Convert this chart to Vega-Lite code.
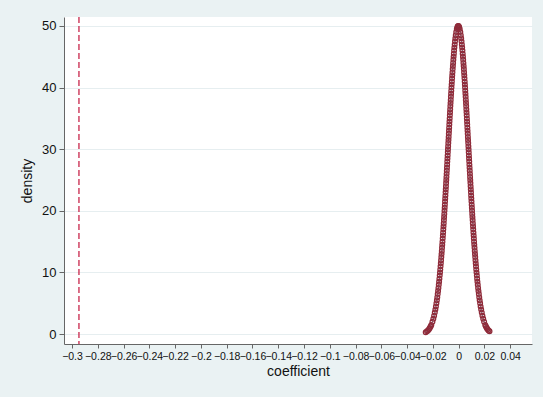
{
  "$schema": "https://vega.github.io/schema/vega-lite/v6.json",
  "autosize": {"type": "none"},
  "width": 468,
  "height": 327,
  "padding": {"left": 64, "top": 17, "right": 11, "bottom": 53},
  "background": "#eaf2f3",
  "config": {
    "view": {"fill": "white", "stroke": null},
    "font": "Liberation Sans",
    "axis": {
      "domainColor": "#666666",
      "tickColor": "#666666",
      "labelColor": "#111111",
      "titleColor": "#111111",
      "titleFontWeight": "normal",
      "labelFont": "Liberation Sans",
      "titleFont": "Liberation Sans"
    }
  },
  "datasets": {
    "kd": [
      {"x": -0.02557, "y": 0.3}, {"x": -0.02455, "y": 0.45}, {"x": -0.0238, "y": 0.6}, {"x": -0.02302, "y": 0.8},
      {"x": -0.0224, "y": 1.0}, {"x": -0.02176, "y": 1.25}, {"x": -0.02122, "y": 1.5}, {"x": -0.02034, "y": 2.0},
      {"x": -0.01964, "y": 2.5}, {"x": -0.01904, "y": 3.0}, {"x": -0.01852, "y": 3.5}, {"x": -0.01806, "y": 4.0},
      {"x": -0.01764, "y": 4.5}, {"x": -0.01725, "y": 5.0}, {"x": -0.0169, "y": 5.5}, {"x": -0.01657, "y": 6.0},
      {"x": -0.01626, "y": 6.5}, {"x": -0.01597, "y": 7.0}, {"x": -0.01569, "y": 7.5}, {"x": -0.01542, "y": 8.0},
      {"x": -0.01517, "y": 8.5}, {"x": -0.01493, "y": 9.0}, {"x": -0.0147, "y": 9.5}, {"x": -0.01447, "y": 10},
      {"x": -0.01426, "y": 10.5}, {"x": -0.01405, "y": 11}, {"x": -0.01384, "y": 11.5}, {"x": -0.01365, "y": 12},
      {"x": -0.01345, "y": 12.5}, {"x": -0.01327, "y": 13}, {"x": -0.01308, "y": 13.5}, {"x": -0.01291, "y": 14},
      {"x": -0.01273, "y": 14.5}, {"x": -0.01256, "y": 15}, {"x": -0.01239, "y": 15.5}, {"x": -0.01223, "y": 16},
      {"x": -0.01206, "y": 16.5}, {"x": -0.0119, "y": 17}, {"x": -0.01175, "y": 17.5}, {"x": -0.01159, "y": 18},
      {"x": -0.01144, "y": 18.5}, {"x": -0.01129, "y": 19}, {"x": -0.01114, "y": 19.5}, {"x": -0.01099, "y": 20},
      {"x": -0.01085, "y": 20.5}, {"x": -0.01071, "y": 21}, {"x": -0.01056, "y": 21.5}, {"x": -0.01042, "y": 22},
      {"x": -0.01028, "y": 22.5}, {"x": -0.01015, "y": 23}, {"x": -0.01001, "y": 23.5}, {"x": -0.00987, "y": 24},
      {"x": -0.00974, "y": 24.5}, {"x": -0.0096, "y": 25}, {"x": -0.00947, "y": 25.5}, {"x": -0.00934, "y": 26},
      {"x": -0.0092, "y": 26.5}, {"x": -0.00907, "y": 27}, {"x": -0.00894, "y": 27.5}, {"x": -0.00881, "y": 28},
      {"x": -0.00868, "y": 28.5}, {"x": -0.00855, "y": 29}, {"x": -0.00842, "y": 29.5}, {"x": -0.00829, "y": 30},
      {"x": -0.00816, "y": 30.5}, {"x": -0.00803, "y": 31}, {"x": -0.00789, "y": 31.5}, {"x": -0.00776, "y": 32},
      {"x": -0.00763, "y": 32.5}, {"x": -0.0075, "y": 33}, {"x": -0.00737, "y": 33.5}, {"x": -0.00724, "y": 34},
      {"x": -0.00711, "y": 34.5}, {"x": -0.00697, "y": 35}, {"x": -0.00684, "y": 35.5}, {"x": -0.0067, "y": 36},
      {"x": -0.00657, "y": 36.5}, {"x": -0.00643, "y": 37}, {"x": -0.00629, "y": 37.5}, {"x": -0.00615, "y": 38},
      {"x": -0.00601, "y": 38.5}, {"x": -0.00587, "y": 39}, {"x": -0.00572, "y": 39.5}, {"x": -0.00558, "y": 40},
      {"x": -0.00543, "y": 40.5}, {"x": -0.00528, "y": 41}, {"x": -0.00512, "y": 41.5}, {"x": -0.00497, "y": 42},
      {"x": -0.0048, "y": 42.5}, {"x": -0.00464, "y": 43}, {"x": -0.00447, "y": 43.5}, {"x": -0.00429, "y": 44},
      {"x": -0.00411, "y": 44.5}, {"x": -0.00393, "y": 45}, {"x": -0.00373, "y": 45.5}, {"x": -0.00353, "y": 46},
      {"x": -0.00331, "y": 46.5}, {"x": -0.00308, "y": 47}, {"x": -0.00283, "y": 47.5}, {"x": -0.00256, "y": 48},
      {"x": -0.00225, "y": 48.5}, {"x": -0.00189, "y": 49}, {"x": -0.00142, "y": 49.5}, {"x": -0.00101, "y": 49.8},
      {"x": -0.00065, "y": 49.95}, {"x": -0.0003, "y": 50},
      {"x": 0.00005, "y": 49.95}, {"x": 0.00041, "y": 49.8}, {"x": 0.00082, "y": 49.5}, {"x": 0.00129, "y": 49},
      {"x": 0.00165, "y": 48.5}, {"x": 0.00196, "y": 48}, {"x": 0.00223, "y": 47.5}, {"x": 0.00248, "y": 47},
      {"x": 0.00271, "y": 46.5}, {"x": 0.00293, "y": 46}, {"x": 0.00313, "y": 45.5}, {"x": 0.00333, "y": 45},
      {"x": 0.00351, "y": 44.5}, {"x": 0.00369, "y": 44}, {"x": 0.00387, "y": 43.5}, {"x": 0.00404, "y": 43},
      {"x": 0.0042, "y": 42.5}, {"x": 0.00437, "y": 42}, {"x": 0.00452, "y": 41.5}, {"x": 0.00468, "y": 41},
      {"x": 0.00483, "y": 40.5}, {"x": 0.00498, "y": 40}, {"x": 0.00512, "y": 39.5}, {"x": 0.00527, "y": 39},
      {"x": 0.00541, "y": 38.5}, {"x": 0.00555, "y": 38}, {"x": 0.00569, "y": 37.5}, {"x": 0.00583, "y": 37},
      {"x": 0.00597, "y": 36.5}, {"x": 0.0061, "y": 36}, {"x": 0.00624, "y": 35.5}, {"x": 0.00637, "y": 35},
      {"x": 0.00651, "y": 34.5}, {"x": 0.00664, "y": 34}, {"x": 0.00677, "y": 33.5}, {"x": 0.0069, "y": 33},
      {"x": 0.00703, "y": 32.5}, {"x": 0.00716, "y": 32}, {"x": 0.00729, "y": 31.5}, {"x": 0.00743, "y": 31},
      {"x": 0.00756, "y": 30.5}, {"x": 0.00769, "y": 30}, {"x": 0.00782, "y": 29.5}, {"x": 0.00795, "y": 29},
      {"x": 0.00808, "y": 28.5}, {"x": 0.00821, "y": 28}, {"x": 0.00834, "y": 27.5}, {"x": 0.00847, "y": 27},
      {"x": 0.0086, "y": 26.5}, {"x": 0.00874, "y": 26}, {"x": 0.00887, "y": 25.5}, {"x": 0.009, "y": 25},
      {"x": 0.00914, "y": 24.5}, {"x": 0.00927, "y": 24}, {"x": 0.00941, "y": 23.5}, {"x": 0.00955, "y": 23},
      {"x": 0.00968, "y": 22.5}, {"x": 0.00982, "y": 22}, {"x": 0.00996, "y": 21.5}, {"x": 0.01011, "y": 21},
      {"x": 0.01025, "y": 20.5}, {"x": 0.01039, "y": 20}, {"x": 0.01054, "y": 19.5}, {"x": 0.01069, "y": 19},
      {"x": 0.01084, "y": 18.5}, {"x": 0.01099, "y": 18}, {"x": 0.01115, "y": 17.5}, {"x": 0.0113, "y": 17},
      {"x": 0.01146, "y": 16.5}, {"x": 0.01163, "y": 16}, {"x": 0.01179, "y": 15.5}, {"x": 0.01196, "y": 15},
      {"x": 0.01213, "y": 14.5}, {"x": 0.01231, "y": 14}, {"x": 0.01248, "y": 13.5}, {"x": 0.01267, "y": 13},
      {"x": 0.01285, "y": 12.5}, {"x": 0.01305, "y": 12}, {"x": 0.01324, "y": 11.5}, {"x": 0.01345, "y": 11},
      {"x": 0.01366, "y": 10.5}, {"x": 0.01387, "y": 10}, {"x": 0.0141, "y": 9.5}, {"x": 0.01433, "y": 9.0},
      {"x": 0.01457, "y": 8.5}, {"x": 0.01482, "y": 8.0}, {"x": 0.01509, "y": 7.5}, {"x": 0.01537, "y": 7.0},
      {"x": 0.01566, "y": 6.5}, {"x": 0.01597, "y": 6.0}, {"x": 0.0163, "y": 5.5}, {"x": 0.01665, "y": 5.0},
      {"x": 0.01704, "y": 4.5}, {"x": 0.01746, "y": 4.0}, {"x": 0.01792, "y": 3.5}, {"x": 0.01844, "y": 3.0},
      {"x": 0.01904, "y": 2.5}, {"x": 0.01974, "y": 2.0}, {"x": 0.02062, "y": 1.5}, {"x": 0.02116, "y": 1.25},
      {"x": 0.0218, "y": 1.0}, {"x": 0.02242, "y": 0.8}, {"x": 0.0232, "y": 0.6}, {"x": 0.02395, "y": 0.45}
    ]
  },
  "encoding": {
    "x": {
      "field": "x", "type": "quantitative",
      "scale": {"domain": [-0.3062, 0.0569], "nice": false, "zero": false},
      "axis": {
        "title": "coefficient",
        "values": [-0.3, -0.28, -0.26, -0.24, -0.22, -0.2, -0.18, -0.16, -0.14, -0.12, -0.1, -0.08, -0.06, -0.04, -0.02, 0, 0.02, 0.04],
        "format": ".2~f",
        "grid": false,
        "tickSize": 4,
        "labelPadding": 3,
        "labelFontSize": 10.5,
        "labelOverlap": false,
        "labelFlush": false,
        "labelBound": false,
        "titleFontSize": 14,
        "titlePadding": 3
      }
    }
  },
  "layer": [
    {
      "data": {"values": [{"x": -0.2946}]},
      "mark": {"type": "rule", "color": "#c8254a", "strokeWidth": 1.3, "strokeDash": [6, 3]}
    },
    {
      "data": {"name": "kd"},
      "mark": {"type": "line", "color": "#1a476f", "strokeWidth": 0.7},
      "encoding": {
        "y": {
          "field": "y", "type": "quantitative",
          "scale": {"domain": [-1.6, 51.45], "nice": false, "zero": false},
          "axis": {
            "title": "density",
            "values": [0, 10, 20, 30, 40, 50],
            "grid": true,
            "gridColor": "#e6eef0",
            "tickSize": 5,
            "labelPadding": 3,
            "labelFontSize": 13,
            "titleFontSize": 14,
            "titlePadding": 7
          }
        }
      }
    },
    {
      "data": {"name": "kd"},
      "mark": {"type": "point", "shape": "circle", "filled": false, "stroke": "#8f2b3a", "strokeWidth": 1.3, "size": 22, "opacity": 1},
      "encoding": {
        "y": {"field": "y", "type": "quantitative"}
      }
    }
  ]
}
